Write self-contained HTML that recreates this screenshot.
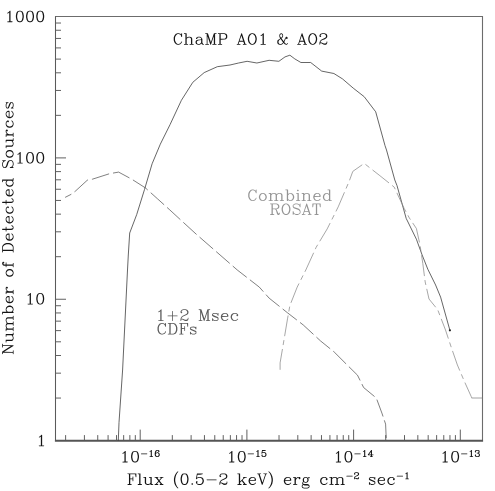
<!DOCTYPE html>
<html><head><meta charset="utf-8"><title>ChaMP AO1 &amp; AO2 detected sources vs flux</title>
<style>
html,body{margin:0;padding:0;background:#fff;}
body{width:495px;height:491px;overflow:hidden;font-family:"Liberation Serif",serif;}
svg{display:block;}
</style></head><body>
<svg width="495" height="491" viewBox="0 0 495 491">
<rect width="495" height="491" fill="#fff"/>
<defs>
<path id="g0" d="M177-348l-9 3l-47 47l-29 14l-6 6l-2 5l2 7l4 4l5 2l7-1l30-15l15-14l1 1l0 276l-56 2l-6 5l-2 7l2 5l9 6l146 0l5-2l6-9l-2-7l-9-6l-53-1l0-324l-2-5z"/>
<path id="g1" d="M140-348l-45 15l-9 6l-31 46l-4 10l-15 75l0 56l16 79l33 51l10 7l45 15l40 0l45-15l9-6l31-46l4-10l15-75l0-56l-16-79l-33-51l-10-7l-45-15zM147-324l26 0l28 14l13 13l15 30l15 75l0 48l-16 77l-14 28l-13 13l-28 14l-26 0l-28-14l-13-13l-15-30l-15-76l0-46l16-78l14-28l13-13z"/>
<path id="g2" d="M44-146l1 8l3 6l7 6l7 2l292 0l10-4l6-7l2-7l-1-8l-3-6l-7-6l-7-2l-292 0l-10 4l-6 7z"/>
<path id="g3" d="M178-356l-11 2l-6 4l-46 46l-31 16l-6 7l-2 7l1 8l3 6l7 6l7 2l12-2l33-18l1 1l0 250l-46 1l-10 4l-7 10l0 12l7 10l10 4l148 0l10-4l6-7l2-7l-2-11l-9-9l-7-2l-46-1l0-317l-4-10l-7-6z"/>
<path id="g4" d="M210-356l-53 0l-50 16l-10 6l-36 38l-17 35l-16 64l0 103l18 55l4 6l31 31l6 4l54 18l43-1l45-15l10-6l31-31l4-6l17-49l0-32l-15-45l-6-10l-31-31l-6-4l-49-17l-26-1l-51 16l-10 6l-10 10l-1-1l12-49l14-29l29-29l24-12l38 0l23 13l-16 16l-4 6l-2 11l6 13l21 19l7 2l11-2l21-19l6-13l0-20l-2-8l-15-30l-11-11l-30-15zM171-188l24 12l28 28l13 39l0 10l-13 39l-28 28l-24 12l-22 0l-24-12l-28-28l-13-39l0-10l13-39l27-27l39-13z"/>
<path id="g5" d="M73-355l-10 8l-4 11l-31 155l0 8l3 8l10 8l14 0l8-5l29-29l39-13l40 0l24 12l28 28l13 39l0 26l-13 39l-28 28l-24 12l-40 0l-39-13l-14-16l20-22l2-7l-1-8l-5-9l-15-15l-13-6l-11 2l-6 4l-19 21l-2 7l0 20l2 8l15 30l20 22l10 6l45 15l59 1l50-16l10-6l31-31l6-10l15-45l0-48l-17-49l-4-6l-31-31l-6-4l-49-17l-58-1l-43 14l-3-1l14-69l71 0l79-16l7-3l6-6l3-8l-1-10l-8-10l-8-3z"/>
<path id="g6" d="M211-356l-10 1l-11 9l-174 237l-4 11l1 8l3 6l7 6l7 2l141 0l1 55l-34 2l-6 3l-7 10l-1 8l2 7l6 7l10 4l116 0l10-4l6-7l2-7l-2-11l-6-7l-10-4l-30-1l0-54l62-1l10-4l6-7l2-7l-2-11l-6-7l-6-3l-66-2l0-222l-3-8l-6-6zM171-251l1 134l-98 1l-1-2z"/>
<path id="g7" d="M120-355l-49 17l-21 19l-20 37l-2 8l0 20l2 7l4 6l21 19l7 2l8-1l9-5l15-15l5-9l1-8l-2-7l-20-22l14-16l39-13l56 0l20 10l13 23l0 38l-10 20l-23 13l-45 0l-7 2l-9 9l-2 11l4 10l7 6l7 2l45 0l24 12l12 12l13 39l0 40l-12 24l-13 13l-24 12l-56 0l-39-13l-12-12l-2-4l20-22l2-7l-1-8l-5-9l-15-15l-6-4l-11-2l-13 6l-19 21l-2 7l0 20l2 8l15 30l20 22l10 6l51 16l74-1l45-15l10-6l20-22l15-30l2-8l0-52l-2-8l-20-37l-28-28l10-5l7-8l15-30l2-8l0-52l-2-8l-15-30l-7-8l-7-4l-50-16z"/>
<path id="g8" d="M289-348l-7 2l-6 7l-10 28l-18-18l-7-4l-45-15l-40 0l-45 15l-7 4l-33 32l-18 35l-17 50l0 88l17 50l18 35l38 35l47 16l40 0l45-15l7-4l33-32l19-40l-2-7l-4-4l-7-2l-5 2l-6 6l-14 29l-30 29l-42 14l-27 0l-28-14l-29-29l-15-30l-15-45l0-76l15-45l15-30l29-29l28-14l27 0l44 15l27 27l17 48l9 6l7-2l6-9l0-98l-2-5z"/>
<path id="g9" d="M26-346l-6 9l2 7l4 4l5 2l37 1l0 310l-40 2l-7 7l-1 5l2 5l9 6l114 0l9-6l2-5l-1-5l-7-7l-40-2l0-158l28-27l42-14l27 0l24 12l15 27l0 160l-40 2l-7 7l-1 5l2 5l9 6l114 0l5-2l6-9l-2-7l-4-4l-5-2l-37-1l0-164l-16-35l-11-9l-45-15l-40 0l-45 15l-7 4l-11 11l-1-132l-2-5l-8-5l-67 0z"/>
<path id="g10" d="M55-201l-3 8l0 18l2 5l9 6l18 0l5-2l6-9l0-18l-2-6l25-13l58 0l28 14l11 11l0 22l-11 10l-93 15l-45 15l-11 9l-15 30l-1 39l16 35l6 6l50 18l53 0l35-16l24-23l8 15l8 8l30 15l23 1l9-6l2-5l-2-7l-9-6l-12 0l-11-11l-14-28l-1-115l-18-35l-17-16l-34-18l-5-1l-66 0l-35 16zM212-132l0 79l-27 27l-28 14l-42 0l-27-15l-12-24l0-26l15-27l27-13z"/>
<path id="g11" d="M26-346l-6 9l2 7l4 4l5 2l37 1l0 310l-40 2l-7 7l-1 5l2 5l9 6l98 0l5-2l6-9l-2-7l-9-6l-37-1l1-244l87 261l3 4l7 4l7-1l7-7l87-261l1 244l-37 1l-9 6l-2 7l2 5l9 6l114 0l5-2l6-9l-2-7l-4-4l-5-2l-37-1l0-310l40-2l7-7l1-5l-2-5l-9-6l-68 0l-9 8l-92 276l-92-276l-3-4l-7-4l-67 0z"/>
<path id="g12" d="M31-348l-5 2l-6 9l2 7l4 4l5 2l37 1l0 310l-37 1l-9 6l-2 7l2 5l9 6l114 0l5-2l6-9l-2-7l-4-4l-5-2l-37-1l0-134l120-1l45-15l7-4l17-16l18-35l0-60l-18-35l-17-16l-7-4l-45-15zM108-323l113-1l28 14l13 13l14 28l0 42l-14 28l-13 13l-28 14l-112 0z"/>
<path id="g13" d="M155-347l-7 7l-108 326l-2 2l-23 0l-5 2l-5 6l0 8l5 6l5 2l101-1l6-5l2-5l-2-7l-6-5l-51-2l23-69l2-2l124 0l2 2l23 69l-35 2l-7 7l-1 5l2 5l9 6l101-1l6-5l2-5l-2-7l-4-4l-5-2l-23 0l-2-2l-108-326l-7-7zM152-272l55 163l-1 1l-109-1z"/>
<path id="g14" d="M156-348l-45 15l-7 4l-33 32l-18 35l-17 66l0 56l15 60l20 41l33 32l7 4l45 15l40 0l45-15l7-4l33-32l18-35l17-66l0-56l-15-60l-20-41l-33-32l-7-4l-45-15zM163-324l26 0l28 14l29 29l15 30l15 60l0 46l-15 60l-15 30l-29 29l-28 14l-26 0l-28-14l-29-29l-15-30l-15-60l0-46l15-60l15-30l29-29z"/>
<path id="g15" d="M124-332l-8 8l-15 30l-1 42l15 45l13 21l-70 47l-6 7l-15 30l-1 55l16 35l11 9l45 15l53 0l35-16l36-35l32 32l7 4l45 15l21 0l7-3l17-16l3-8l0-18l-6-9l-5-2l-7 2l-6 9l0 12l-9 9l-8 0l-28-14l-29-29l-12-16l16-26l28-72l9-18l2-1l2 5l17 16l7 3l9-3l17-16l2-5l1-21l-3-8l-17-16l-7-3l-21 1l-21 18l-18 35l-31 79l-7 10l-68-92l30-30l18-35l0-44l-15-30l-8-8l-30-15l-12 0zM142-165l75 106l-32 33l-28 14l-42 0l-24-12l-15-27l0-42l14-28l29-29zM161-322l23 13l12 24l0 26l-14 28l-26 25l-18-25l-14-28l0-26l12-24l3-3z"/>
<path id="g16" d="M79-333l-7 4l-17 16l-18 35l-1 23l3 8l17 16l7 3l9-3l17-16l3-8l-3-10l-21-18l6-14l14-13l42-14l59 0l28 14l13 13l14 28l0 26l-15 28l-42 28l-95 47l-37 35l-19 53l1 56l7 7l5 1l5-2l6-9l0-28l9-9l23 0l73 44l10 4l69-1l21-18l18-35l1-39l-2-5l-6-5l-8 0l-7 7l-1 31l-11 11l-28 14l-43 0l-76-31l-37-2l10-29l28-28l32-16l72-28l55-35l6-7l15-30l0-44l-18-35l-17-16l-7-4l-45-15l-72 0z"/>
<path id="g17" d="M140-236l-47 16l-38 35l-19 53l0 40l19 53l33 32l7 4l45 15l40 0l47-16l38-35l19-53l0-40l-19-53l-33-32l-7-4l-45-15zM147-212l26 0l28 14l28 28l15 44l0 28l-15 44l-28 28l-28 14l-26 0l-28-14l-28-28l-15-44l0-28l15-44l28-28z"/>
<path id="g18" d="M21-228l0 8l7 7l40 2l0 198l-37 1l-5 2l-4 4l-2 7l2 5l6 5l117 1l9-6l2-5l-1-5l-7-7l-40-2l0-158l26-26l44-15l27 0l24 12l15 27l0 160l-37 1l-5 2l-6 9l2 7l4 4l5 2l114 0l9-6l2-5l-1-5l-7-7l-40-2l0-158l26-26l44-15l27 0l24 12l15 27l0 160l-40 2l-7 7l-1 5l2 5l9 6l114 0l5-2l5-6l0-8l-7-7l-40-2l0-164l-16-35l-11-9l-45-15l-40 0l-47 16l-25 23l-8-15l-9-8l-47-16l-40 0l-45 15l-7 4l-11 11l-2-23l-9-7l-67 0l-5 2z"/>
<path id="g19" d="M26-346l-6 9l2 7l4 4l5 2l37 1l0 324l2 5l9 6l9-4l7 4l7-2l6-9l1-19l15 14l35 16l37 0l45-15l7-4l33-32l19-53l0-40l-19-53l-33-32l-7-4l-45-15l-42 1l-30 15l-15 14l-1-132l-2-5l-8-5l-67 0zM163-212l26 0l28 14l28 28l15 44l0 28l-15 44l-28 28l-28 14l-26 0l-28-14l-27-27l0-118l27-27z"/>
<path id="g20" d="M28-235l-6 5l-2 5l2 7l4 4l5 2l37 1l0 198l-40 2l-7 7l0 8l5 6l5 2l117-1l6-5l2-5l-2-7l-4-4l-5-2l-37-1l-1-216l-9-7zM78-348l-6 3l-17 16l-3 10l3 8l17 16l9 3l7-3l17-16l3-10l-3-8l-17-16z"/>
<path id="g21" d="M22-230l-2 5l1 5l7 7l40 2l0 198l-37 1l-5 2l-6 9l2 7l4 4l5 2l114 0l9-6l2-5l-1-5l-7-7l-40-2l0-158l26-26l44-15l27 0l24 12l15 27l0 160l-40 2l-7 7l-1 5l2 5l9 6l114 0l9-6l2-5l-1-5l-7-7l-40-2l0-164l-16-35l-6-6l-50-18l-40 0l-45 15l-7 4l-11 11l-2-23l-9-7l-67 0z"/>
<path id="g22" d="M140-236l-47 16l-38 35l-19 53l0 40l19 53l33 32l7 4l45 15l40 0l45-15l7-4l33-32l3-8l-2-7l-9-6l-9 3l-32 31l-42 14l-27 0l-28-14l-28-28l-15-44l0-17l181-1l5-2l6-9l0-34l-1-5l-18-35l-21-19l-35-16zM81-141l10-29l28-28l28-14l42 0l24 12l15 27l-1 33z"/>
<path id="g23" d="M191-348l-5 2l-6 9l2 7l4 4l5 2l37 1l0 116l-1 1l-15-14l-35-16l-37 0l-47 16l-38 35l-4 8l-15 45l0 40l19 53l33 32l7 4l45 15l37 0l35-16l15-14l1 20l2 5l5 4l70 1l5-2l6-9l-2-7l-4-4l-5-2l-37-1l0-325l-2-5l-8-5zM147-212l26 0l28 14l27 27l0 118l-27 27l-28 14l-26 0l-28-14l-28-28l-15-44l0-28l15-44l28-28z"/>
<path id="g24" d="M26-346l-6 9l2 7l4 4l5 2l37 1l0 310l-40 2l-7 7l-1 5l2 5l9 6l114 0l9-6l2-5l-1-5l-7-7l-40-2l0-150l65-1l27 15l13 26l29 104l5 12l17 16l7 3l34 0l5-2l6-6l15-30l1-23l-2-5l-9-6l-7 2l-6 9l0 12l-9 9l-6 0l-11-11l-49-114l-11-10l53-17l22-19l18-35l1-39l-1-5l-18-35l-22-19l-47-16l-197 0zM108-323l113-1l28 14l13 13l14 28l0 26l-14 28l-13 13l-28 14l-112 0z"/>
<path id="g25" d="M278-346l-7-2l-9 6l-12 31l-23-21l-47-16l-56 0l-47 16l-38 35l-3 8l1 39l18 35l17 16l39 20l92 30l30 15l27 27l0 54l-26 26l-44 15l-44 0l-44-15l-27-27l-17-48l-9-6l-7 2l-6 9l0 98l6 9l7 2l9-6l12-31l23 21l47 16l56 0l47-16l38-35l3-8l0-67l-19-39l-21-19l-30-15l-97-32l-30-15l-27-27l0-22l26-26l44-15l44 0l44 15l27 27l17 48l6 5l8 0l6-5l2-5l0-98z"/>
<path id="g26" d="M26-346l-6 9l0 98l2 5l9 6l7-2l4-4l3-7l14-83l73 1l0 310l-40 2l-7 7l-1 5l2 5l9 6l114 0l5-2l6-9l-2-7l-4-4l-5-2l-37-1l0-310l73-1l14 83l3 7l4 4l7 2l5-2l6-9l0-98l-2-5l-9-6l-242 0z"/>
<path id="g27" d="M207-300l-5 2l-6 9l0 132l-133 1l-9 6l-2 7l2 5l9 6l132 0l1 133l6 9l7 2l5-2l6-9l0-132l133-1l9-6l2-7l-2-5l-9-6l-132 0l-1-133l-6-9z"/>
<path id="g28" d="M90-235l-30 15l-21 19l-3 8l0 34l3 8l21 19l37 18l72 28l32 16l11 11l0 22l-11 11l-28 14l-58 0l-28-14l-13-13l-14-29l-6-6l-7-2l-5 2l-6 9l1 69l7 7l8 0l8-7l8-15l8 7l35 16l71-1l30-15l21-19l3-8l0-50l-3-8l-21-19l-37-18l-72-28l-32-16l-11-11l0-6l11-11l28-14l58 0l28 14l13 13l14 29l6 6l7 2l5-2l6-9l-1-69l-7-7l-8 0l-8 7l-8 15l-8-7l-35-16z"/>
<path id="g29" d="M140-236l-47 16l-38 35l-19 53l0 40l19 53l33 32l7 4l45 15l40 0l45-15l7-4l33-32l3-8l-1-5l-7-7l-8 0l-4 2l-30 30l-44 15l-27 0l-28-14l-28-28l-15-44l0-28l14-42l29-30l28-14l42 0l28 14l14 14l-16 15l-3 10l3 8l17 16l9 3l7-3l17-16l3-8l0-18l-3-8l-33-32l-34-18z"/>
<path id="g30" d="M26-346l-6 9l2 7l4 4l5 2l37 1l0 310l-40 2l-7 7l-1 5l2 5l9 6l165 0l45-15l7-4l33-32l18-35l17-50l0-88l-17-50l-18-35l-33-32l-7-4l-45-15l-165 0zM109-324l80 0l28 14l29 29l15 30l15 45l0 76l-15 45l-15 30l-29 29l-28 14l-81-1z"/>
<path id="g31" d="M292-347l-261-1l-9 6l-2 5l1 5l7 7l40 2l0 310l-37 1l-5 2l-6 9l2 7l4 4l5 2l114 0l5-2l5-6l0-8l-7-7l-40-2l1-151l70 0l2 56l5 6l7 2l5-2l6-9l0-130l-6-9l-5-2l-5 1l-6 5l-2 5l-1 53l-71-1l0-134l153-1l14 83l3 7l4 4l7 2l5-2l6-9l0-98l-2-5z"/>
<path id="g32" d="M31-348l-5 2l-6 9l2 7l4 4l5 2l37 1l0 310l-37 1l-9 6l-2 7l2 5l9 6l114 0l5-2l6-9l-2-7l-4-4l-5-2l-37-1l0-325l-2-5l-8-5z"/>
<path id="g33" d="M22-230l-2 5l1 5l7 7l40 2l0 164l16 35l6 6l50 18l40 0l45-15l7-4l11-11l2 23l9 7l67 0l9-6l2-5l-1-5l-7-7l-40-2l0-213l-3-6l-7-4l-67 0l-5 2l-5 6l0 8l7 7l40 2l0 158l-26 26l-44 15l-27 0l-24-12l-15-27l0-175l-2-5l-8-5l-67 0z"/>
<path id="g34" d="M22-230l-2 7l6 9l5 2l28 1l81 103l-82 96l-27 0l-9 6l-2 7l6 9l5 2l98 0l5-2l6-9l-2-7l-4-4l-5-2l-38-1l64-74l59 74l-23 1l-5 2l-6 9l2 7l4 4l5 2l98 0l9-6l2-7l-6-9l-5-2l-28-1l-81-103l82-96l27 0l9-6l2-7l-6-9l-5-2l-98 0l-5 2l-6 9l2 7l4 4l5 2l38 1l-64 74l-59-74l23-1l5-2l6-9l-2-7l-4-4l-5-2l-98 0z"/>
<path id="g35" d="M175-412l-7 3l-33 32l-34 51l-32 64l-17 82l0 72l17 82l32 64l34 51l33 32l9 3l9-6l2-5l-3-10l-31-30l-31-62l-16-48l-15-76l0-62l15-76l16-48l31-62l31-30l3-8l-1-5l-5-6z"/>
<path id="g36" d="M78-44l-6 3l-17 16l-3 10l3 8l17 16l9 3l7-3l17-16l3-10l-3-8l-17-16z"/>
<path id="g37" d="M75-347l-5 4l-3 8l-31 155l2 11l8 5l7-1l33-32l44-15l43 0l28 14l28 28l15 44l0 28l-15 44l-28 28l-28 14l-43 0l-44-15l-12-12l-6-14l21-18l3-10l-3-8l-21-18l-5-1l-7 3l-17 16l-3 8l1 23l18 35l17 16l7 4l45 15l56 0l45-15l7-4l33-32l19-53l0-40l-19-53l-33-32l-7-4l-45-15l-56 0l-45 15l-10 7l-1-2l18-90l2-2l76 0l76-15l10-6l2-5l-1-7l-9-7z"/>
<path id="g38" d="M52-145l2 7l9 6l290 0l5-2l6-9l-2-7l-9-6l-290 0l-5 2z"/>
<path id="g39" d="M26-346l-6 9l2 7l4 4l5 2l37 1l0 310l-40 2l-7 7l-1 5l2 5l9 6l114 0l5-2l6-9l-2-7l-4-4l-5-2l-37-1l0-46l51-50l72 96l-24 1l-5 2l-6 9l2 7l4 4l5 2l98 0l5-2l6-9l-2-7l-9-6l-26 0l-91-120l-2-5l75-75l47-1l7-7l1-5l-2-5l-9-6l-98 0l-5 2l-6 9l2 7l4 4l5 2l19 1l-117 117l-1-244l-2-5l-8-5l-67 0z"/>
<path id="g40" d="M12-347l-6 5l-2 5l2 7l4 4l5 2l23 0l2 2l108 326l7 7l10 0l7-7l108-326l2-2l23 0l5-2l5-6l0-8l-5-6l-5-2l-98 0l-9 6l-2 5l1 5l7 7l51 2l-87 259l-87-259l35-2l7-7l1-5l-2-5l-9-6z"/>
<path id="g41" d="M47-412l-9 6l-2 5l3 10l31 30l31 62l16 48l15 75l0 64l-15 75l-16 48l-31 62l-31 30l-3 8l1 5l5 6l7 2l7-3l33-32l34-51l32-64l17-82l0-72l-17-82l-32-64l-34-51l-33-32z"/>
<path id="g42" d="M28-235l-6 5l-2 5l2 7l4 4l5 2l37 1l0 198l-40 2l-7 7l0 8l5 6l5 2l117-1l6-5l2-5l-2-7l-4-4l-5-2l-37-1l0-113l14-42l29-30l28-14l30 0l1 1l-11 10l-3 10l3 8l17 16l7 3l5-1l21-18l3-8l0-18l-3-8l-17-16l-7-3l-50 0l-35 16l-31 30l-1-36l-2-5l-5-4z"/>
<path id="g43" d="M126-236l-34 16l-21 19l-18 35l-1 39l13 29l-10 9l-19 40l1 23l14 27l-9 5l-6 6l-15 30l-1 23l16 35l11 9l45 15l104 0l45-15l11-9l16-35l-1-23l-15-30l-11-9l-45-15l-82 0l-44-15l-10-10l0-8l14-28l6-6l12 11l35 16l39-1l34-18l17-16l18-35l1-5l-1-39l-12-24l6-6l28 0l5-2l6-9l0-18l-6-9l-5-2l-7 1l-30 15l-12 11l-12-11l-30-15zM44 51l13-25l23-8l28 10l82 0l44 15l10 10l0 8l-13 25l-41 14l-92 0l-41-14l-13-25zM131-212l26 0l24 12l15 27l0 58l-12 24l-27 15l-26 0l-24-12l-15-27l0-58l12-24z"/>
<path id="g44" d="M75-340l-10 6l-20 22l-15 30l-2 8l0 20l2 7l4 6l21 19l7 2l11-2l6-4l19-21l2-7l-2-11l-20-22l2-4l12-12l39-13l56 0l24 12l13 13l12 24l0 22l-14 25l-39 26l-95 47l-38 36l-6 10l-15 45l-1 58l2 7l9 9l7 2l11-2l7-6l3-6l1-29l5-5l17 0l80 47l72 1l7-2l6-4l20-22l16-33l1-41l-4-10l-7-6l-11-2l-10 4l-6 7l-2 7l0 25l-9 9l-24 12l-39 0l-76-31l-28-2l5-15l28-28l30-15l72-28l55-35l9-10l15-30l2-8l0-36l-2-8l-15-30l-20-22l-10-6l-45-15l-74-1z"/>
<path id="g45" d="M26-346l-6 9l2 7l4 4l5 2l37 1l0 310l-40 2l-7 7l-1 5l2 5l9 6l98 0l5-2l6-9l-2-7l-9-6l-37-1l1-272l184 291l9 6l7-1l4-3l3-6l0-325l40-2l7-7l1-5l-2-5l-9-6l-98 0l-5 2l-6 9l2 7l9 6l37 1l-1 247l-168-266l-9-6l-67 0z"/>
<path id="g46" d="M164-347l-38-1l-34 16l-8 8l-15 30l-1 57l-37 1l-5 2l-5 6l0 8l7 7l40 2l0 198l-37 1l-5 2l-4 4l-2 7l2 5l6 5l117 1l5-2l5-6l0-8l-7-7l-40-2l0-198l53-1l9-6l2-7l-2-5l-9-6l-52 0l-1-49l14-28l11-11l13 1l-11 10l-3 10l3 8l17 16l7 3l5-1l21-18l3-8l0-18l-3-8z"/>
<path id="g47" d="M79-348l-5 2l-6 9l0 100l-37 1l-9 6l-2 7l2 5l9 6l37 1l0 151l16 47l8 9l30 15l44 0l30-15l8-8l15-30l1-7l-6-9l-5-2l-7 2l-6 6l-12 25l-27 15l-24 0l-11-12l-14-42l0-145l53-1l9-6l2-7l-2-5l-9-6l-53-1l0-100l-2-5l-6-5l-5-1l-7 4z"/>
</defs>
<path d="M55.5 398.05h5.5M55.5 373.16h5.5M55.5 355.50h5.5M55.5 341.80h5.5M55.5 330.61h5.5M55.5 321.15h5.5M55.5 312.95h5.5M55.5 305.72h5.5M55.5 299.25h10.5M55.5 256.70h5.5M55.5 231.81h5.5M55.5 214.15h5.5M55.5 200.45h5.5M55.5 189.26h5.5M55.5 179.80h5.5M55.5 171.60h5.5M55.5 164.37h5.5M55.5 157.90h10.5M55.5 115.35h5.5M55.5 90.46h5.5M55.5 72.80h5.5M55.5 59.10h5.5M55.5 47.91h5.5M55.5 38.45h5.5M55.5 30.25h5.5M55.5 23.02h5.5" stroke="#444" stroke-width="0.85" fill="none"/>
<path d="M65.62 440.6v-5.5M84.41 440.6v-5.5M97.74 440.6v-5.5M108.08 440.6v-5.5M116.53 440.6v-5.5M123.67 440.6v-5.5M129.86 440.6v-5.5M135.32 440.6v-5.5M140.20 440.6v-11M172.32 440.6v-5.5M191.11 440.6v-5.5M204.44 440.6v-5.5M214.78 440.6v-5.5M223.23 440.6v-5.5M230.37 440.6v-5.5M236.56 440.6v-5.5M242.02 440.6v-5.5M246.90 440.6v-11M279.02 440.6v-5.5M297.81 440.6v-5.5M311.14 440.6v-5.5M321.48 440.6v-5.5M329.93 440.6v-5.5M337.07 440.6v-5.5M343.26 440.6v-5.5M348.72 440.6v-5.5M353.60 440.6v-11M385.72 440.6v-5.5M404.51 440.6v-5.5M417.84 440.6v-5.5M428.18 440.6v-5.5M436.63 440.6v-5.5M443.77 440.6v-5.5M449.96 440.6v-5.5M455.42 440.6v-5.5M460.30 440.6v-11" stroke="#444" stroke-width="0.85" fill="none"/>
<path d="M55.5 16.0V440.6" stroke="#5a5a5a" stroke-width="1.05" fill="none"/>
<path d="M55.5 16.5H482.5V440.6" stroke="#6c6c6c" stroke-width="1.1" fill="none"/>
<path d="M54.9 440.70000000000005H483.1" stroke="#555" stroke-width="1.9" fill="none"/>
<path d="M118.3 440.6 L119.0 422.6 L122.6 370.0 L127.5 270.0 L128.3 255.0 L129.7 233.0 L136.7 214.6 L144.5 189.5 L152.1 163.8 L160.3 144.2 L170.0 124.7 L181.4 100.3 L192.8 82.3 L204.2 72.6 L217.3 66.7 L230.0 65.0 L238.6 63.0 L247.1 61.3 L256.9 63.0 L269.1 60.3 L278.9 61.3 L285.0 56.9 L289.9 55.2 L294.8 58.9 L300.9 62.5 L310.7 62.5 L321.7 71.1 L333.9 73.5 L342.5 78.9 L353.2 88.1 L364.2 96.7 L375.7 111.8 L385.0 145.6 L386.5 150.0 L394.8 180.0 L397.0 185.6 L406.2 218.4 L416.4 239.2 L422.1 254.9 L427.8 269.2 L435.6 285.0 L440.6 297.1 L449.9 330.3" stroke="#333" stroke-width="0.75" fill="none" stroke-linejoin="round"/>
<circle cx="449.9" cy="330.3" r="1.1" fill="#222"/>
<path d="M65.1 197.4 L71.2 194.3 L75.2 191.3 L87.3 180.2 L92.4 179.2 L109.5 173.7 L118.6 172.1 L131.8 179.2 L145.4 187.9 L157.6 198.9 L169.8 209.9 L181.5 220.7 L196.7 234.6 L237.3 270.0 L259.3 287.1 L269.1 298.1 L287.5 312.8 L303.3 325.0 L320.5 340.9 L334.2 352.0 L347.7 365.5 L357.5 375.2 L363.6 387.5 L376.3 398.0 L381.9 413.1 L385.6 424.1 L386.3 440.0" stroke="#3a3a3a" stroke-width="0.65" fill="none" stroke-dasharray="18 4" stroke-dashoffset="11" stroke-linejoin="round"/>
<path d="M471.6 398H482.3" stroke="#8a8a8a" stroke-width="0.8" fill="none"/>
<path d="M280.1 369.8 L280.1 362.9 L282.6 348.2 L287.5 318.9 L289.9 305.5 L297.2 287.1 L305.8 270.0 L316.2 247.2 L327.2 228.9 L338.2 206.9 L349.2 181.2 L352.8 171.4 L364.2 163.4 L379.9 175.7 L394.2 187.1 L404.2 208.5 L409.3 217.9 L416.4 228.5 L420.0 244.9 L422.8 263.5 L425.2 282.0 L429.0 299.0 L437.7 309.7 L445.5 330.0 L451.3 347.4 L457.4 365.0 L464.3 381.2 L471.2 396.5 L471.9 398.0" stroke="#8a8a8a" stroke-width="0.75" fill="none" stroke-dasharray="21 4 5 4" stroke-linejoin="round"/>
<g transform="translate(4.53 21.75) scale(0.03188)" fill="#151515"><title>1000</title><use href="#g0" x="0.0"/><use href="#g1" x="320.0"/><use href="#g1" x="640.0"/><use href="#g1" x="960.0"/></g>
<g transform="translate(14.73 163.10) scale(0.03188)" fill="#151515"><title>100</title><use href="#g0" x="0.0"/><use href="#g1" x="320.0"/><use href="#g1" x="640.0"/></g>
<g transform="translate(24.93 304.05) scale(0.03188)" fill="#151515"><title>10</title><use href="#g0" x="0.0"/><use href="#g1" x="320.0"/></g>
<g transform="translate(36.15 445.80) scale(0.03188)" fill="#151515"><title>1</title><use href="#g0" x="0.0"/></g>
<g transform="translate(119.73 462.00) scale(0.03188)" fill="#151515"><title>10</title><use href="#g0" x="0.0"/><use href="#g1" x="320.0"/></g>
<g transform="translate(140.13 456.70) scale(0.01912)" fill="#151515"><title>-16</title><use href="#g2" x="0.0"/><use href="#g3" x="416.0"/><use href="#g4" x="736.0"/></g>
<g transform="translate(226.43 462.00) scale(0.03188)" fill="#151515"><title>10</title><use href="#g0" x="0.0"/><use href="#g1" x="320.0"/></g>
<g transform="translate(246.83 456.70) scale(0.01912)" fill="#151515"><title>-15</title><use href="#g2" x="0.0"/><use href="#g3" x="416.0"/><use href="#g5" x="736.0"/></g>
<g transform="translate(333.13 462.00) scale(0.03188)" fill="#151515"><title>10</title><use href="#g0" x="0.0"/><use href="#g1" x="320.0"/></g>
<g transform="translate(353.53 456.70) scale(0.01912)" fill="#151515"><title>-14</title><use href="#g2" x="0.0"/><use href="#g3" x="416.0"/><use href="#g6" x="736.0"/></g>
<g transform="translate(439.83 462.00) scale(0.03188)" fill="#151515"><title>10</title><use href="#g0" x="0.0"/><use href="#g1" x="320.0"/></g>
<g transform="translate(460.23 456.70) scale(0.01912)" fill="#151515"><title>-13</title><use href="#g2" x="0.0"/><use href="#g3" x="416.0"/><use href="#g7" x="736.0"/></g>
<g transform="translate(172.58 44.30) scale(0.03173)" fill="#151515"><title>ChaMP AO1 &amp; AO2</title><use href="#g8" x="0.0"/><use href="#g9" x="336.0"/><use href="#g10" x="688.0"/><use href="#g11" x="1008.0"/><use href="#g12" x="1408.0"/><use href="#g13" x="2016.0"/><use href="#g14" x="2336.0"/><use href="#g0" x="2688.0"/><use href="#g15" x="3264.0"/><use href="#g13" x="3920.0"/><use href="#g14" x="4240.0"/><use href="#g16" x="4592.0"/></g>
<g transform="translate(247.08 200.60) scale(0.03175)" fill="#949494"><title>Combined</title><use href="#g8" x="0.0"/><use href="#g17" x="336.0"/><use href="#g18" x="656.0"/><use href="#g19" x="1184.0"/><use href="#g20" x="1520.0"/><use href="#g21" x="1696.0"/><use href="#g22" x="2048.0"/><use href="#g23" x="2352.0"/></g>
<g transform="translate(269.39 214.50) scale(0.03150)" fill="#949494"><title>ROSAT</title><use href="#g24" x="0.0"/><use href="#g14" x="352.0"/><use href="#g25" x="704.0"/><use href="#g13" x="1024.0"/><use href="#g26" x="1344.0"/></g>
<g transform="translate(155.49 320.60) scale(0.03235)" fill="#5a5a5a"><title>1+2 Msec</title><use href="#g0" x="0.0"/><use href="#g27" x="320.0"/><use href="#g16" x="736.0"/><use href="#g11" x="1312.0"/><use href="#g28" x="1712.0"/><use href="#g22" x="1984.0"/><use href="#g29" x="2288.0"/></g>
<g transform="translate(156.36 334.20) scale(0.03218)" fill="#5a5a5a"><title>CDFs</title><use href="#g8" x="0.0"/><use href="#g30" x="336.0"/><use href="#g31" x="688.0"/><use href="#g28" x="1008.0"/></g>
<g transform="translate(126.80 484.50) scale(0.03194)" fill="#151515"><title>Flux (0.5-2 keV) erg cm</title><use href="#g31" x="0.0"/><use href="#g32" x="320.0"/><use href="#g33" x="496.0"/><use href="#g34" x="848.0"/><use href="#g35" x="1424.0"/><use href="#g1" x="1648.0"/><use href="#g36" x="1968.0"/><use href="#g37" x="2128.0"/><use href="#g38" x="2448.0"/><use href="#g16" x="2864.0"/><use href="#g39" x="3440.0"/><use href="#g22" x="3776.0"/><use href="#g40" x="4080.0"/><use href="#g41" x="4400.0"/><use href="#g22" x="4880.0"/><use href="#g42" x="5184.0"/><use href="#g43" x="5456.0"/><use href="#g29" x="6016.0"/><use href="#g18" x="6320.0"/></g>
<g transform="translate(345.51 478.96) scale(0.01916)" fill="#151515"><title>-2</title><use href="#g2" x="0.0"/><use href="#g44" x="416.0"/></g>
<g transform="translate(359.61 484.50) scale(0.03194)" fill="#151515"><title> sec</title><use href="#g28" x="256.0"/><use href="#g22" x="528.0"/><use href="#g29" x="832.0"/></g>
<g transform="translate(395.89 478.96) scale(0.01916)" fill="#151515"><title>-1</title><use href="#g2" x="0.0"/><use href="#g3" x="416.0"/></g>
<g transform="translate(13.20 354.82) rotate(-90) scale(0.03179)" fill="#151515"><title>Number of Detected Sources</title><use href="#g45" x="0.0"/><use href="#g33" x="368.0"/><use href="#g18" x="720.0"/><use href="#g19" x="1248.0"/><use href="#g22" x="1584.0"/><use href="#g42" x="1888.0"/><use href="#g17" x="2416.0"/><use href="#g46" x="2736.0"/><use href="#g30" x="3200.0"/><use href="#g22" x="3552.0"/><use href="#g47" x="3856.0"/><use href="#g22" x="4096.0"/><use href="#g29" x="4400.0"/><use href="#g47" x="4704.0"/><use href="#g22" x="4944.0"/><use href="#g23" x="5248.0"/><use href="#g25" x="5840.0"/><use href="#g17" x="6160.0"/><use href="#g33" x="6480.0"/><use href="#g42" x="6832.0"/><use href="#g29" x="7104.0"/><use href="#g22" x="7408.0"/><use href="#g28" x="7712.0"/></g>
</svg></body></html>
